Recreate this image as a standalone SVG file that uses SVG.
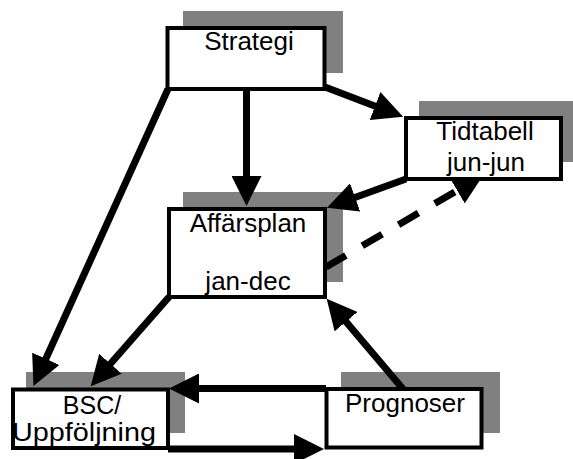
<svg xmlns="http://www.w3.org/2000/svg" width="573" height="459" viewBox="0 0 573 459">
  <defs>
    <marker id="head" markerUnits="userSpaceOnUse" markerWidth="30" markerHeight="30" viewBox="0 0 30 30" refX="1" refY="15" orient="auto">
      <path d="M0,0 L30,15 L0,30 Z" fill="#000"/>
    </marker>
    <style>
      .shadow { fill: #808080; stroke: none; }
      .box { fill: #fff; stroke: #000; stroke-width: 4; }
      .label { font-family: "Liberation Sans", Arial, sans-serif; font-size: 26px; fill: #000; text-anchor: middle; }
      .tight { font-size: 25px; }
      .link { fill: none; stroke: #000; stroke-width: 7; marker-end: url(#head); }
      .dashed { stroke-dasharray: 23 19; }
    </style>
  </defs>

  <rect width="573" height="459" fill="#fff"/>

  <!-- drop shadows sit beneath the connectors -->
  <g id="shadows">
    <rect id="shadow-strategi" class="shadow" x="183" y="11" width="160" height="62"/>
    <rect id="shadow-tidtabell" class="shadow" x="419" y="101" width="158" height="61"/>
    <rect id="shadow-affarsplan" class="shadow" x="183" y="192" width="160" height="90"/>
    <rect id="shadow-bsc" class="shadow" x="26" y="372" width="159" height="61"/>
    <rect id="shadow-prognoser" class="shadow" x="341" y="372" width="159" height="61"/>
  </g>

  <g id="connectors">
    <line class="link" x1="246.5" y1="91" x2="246.5" y2="177"/>
    <line class="link" x1="325" y1="87" x2="376" y2="106.4"/>
    <line class="link" x1="406" y1="179" x2="354.2" y2="197.8"/>
    <line class="link dashed" x1="326" y1="267" x2="458" y2="190"/>
    <line class="link" x1="168" y1="89" x2="45.4" y2="359.7"/>
    <line class="link" x1="169" y1="297" x2="109.8" y2="364.5"/>
    <line class="link" x1="403" y1="389" x2="345.4" y2="320.9"/>
    <line class="link" x1="326" y1="388.5" x2="198" y2="388.5"/>
    <line class="link" x1="168" y1="449" x2="295" y2="449"/>
  </g>

  <g id="strategi">
    <rect class="box" x="167.5" y="28" width="157" height="61"/>
    <text class="label" x="249" y="50">Strategi</text>
  </g>

  <g id="tidtabell">
    <rect class="box" x="406" y="118" width="155" height="61"/>
    <text class="label" x="485" y="140">Tidtabell</text>
    <text class="label" x="486" y="171">jun-jun</text>
  </g>

  <g id="affarsplan">
    <rect class="box" x="169" y="209" width="156" height="88"/>
    <text class="label" x="248" y="232">Affärsplan</text>
    <text class="label" x="248" y="290">jan-dec</text>
  </g>

  <g id="bsc">
    <rect class="box" x="13" y="389.5" width="155" height="58.5"/>
    <text class="label tight" x="92" y="414">BSC/</text>
    <text class="label tight" x="84" y="441" textLength="144" lengthAdjust="spacingAndGlyphs">Uppföljning</text>
  </g>

  <g id="prognoser">
    <rect class="box" x="326.5" y="389" width="155" height="58.5"/>
    <text class="label" x="405" y="412">Prognoser</text>
  </g>
</svg>
